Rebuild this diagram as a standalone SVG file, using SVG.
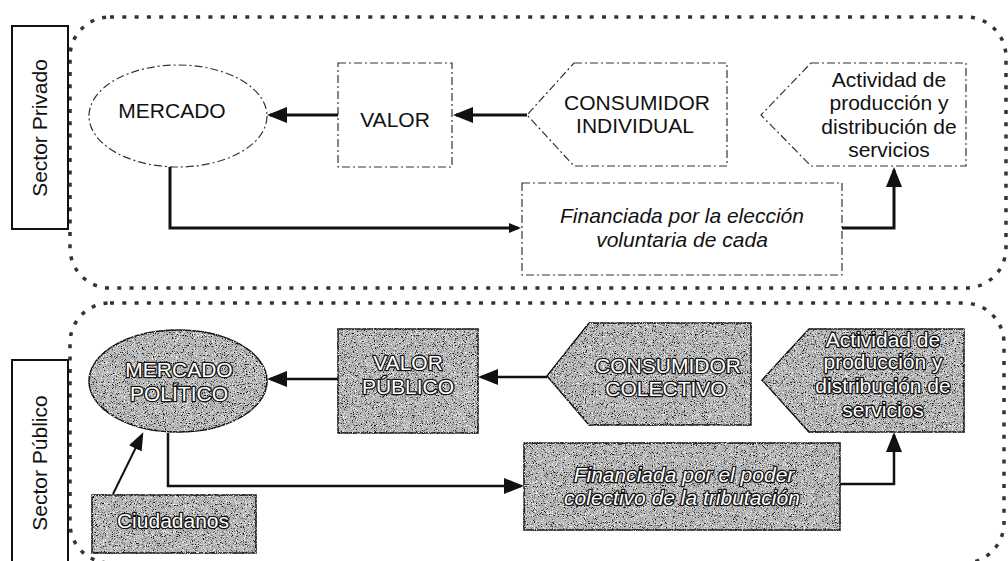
<svg xmlns="http://www.w3.org/2000/svg" width="1008" height="561" viewBox="0 0 1008 561">
<style>
  .lbl{font-family:"Liberation Sans",Arial,sans-serif;font-size:21px;fill:#111;text-anchor:middle}
  .it{font-style:italic}
  .wt{fill:#fff;stroke:#111;stroke-width:2.6;paint-order:stroke;stroke-linejoin:round}
  .dash{fill:#fff;stroke:#333;stroke-width:1.2;stroke-dasharray:8 3 2 3}
  .gray{fill:#b4b4b4;stroke:#111;stroke-width:1.5;filter:url(#grain)}
  .dots{fill:none;stroke:#333;stroke-width:3.5;stroke-dasharray:4 8.3}
  .side{fill:#fff;stroke:#111;stroke-width:2}
  .c{fill:none;stroke:#111;stroke-linejoin:miter}
  .c3{stroke-width:3}
  .c25{stroke-width:2.5}
</style>
<defs>
  <filter id="grain" x="-2%" y="-2%" width="104%" height="104%" color-interpolation-filters="sRGB">
    <feTurbulence type="fractalNoise" baseFrequency="1.1" numOctaves="2" seed="5" result="noise"/>
    <feColorMatrix in="noise" type="matrix" values="0 0 0 0 0  0 0 0 0 0  0 0 0 0 0  5 0 0 0 -2.9" result="blk"/>
    <feColorMatrix in="noise" type="matrix" values="0 0 0 0 1  0 0 0 0 1  0 0 0 0 1  0 5 0 0 -2.7" result="wht"/>
    <feComposite in="blk" in2="SourceGraphic" operator="in" result="clipB"/>
    <feComposite in="wht" in2="SourceGraphic" operator="in" result="clipW"/>
    <feMerge><feMergeNode in="SourceGraphic"/><feMergeNode in="clipW"/><feMergeNode in="clipB"/></feMerge>
  </filter>
  <marker id="arrL" viewBox="0 0 20 16" refX="17" refY="8" markerWidth="20" markerHeight="16" markerUnits="userSpaceOnUse" orient="auto">
    <path d="M0,0 L20,8 L0,16 z" fill="#111"/>
  </marker>
  <marker id="arrS" viewBox="0 0 12 10" refX="9" refY="5" markerWidth="12" markerHeight="10" markerUnits="userSpaceOnUse" orient="auto">
    <path d="M0,0 L12,5 L0,10 z" fill="#111"/>
  </marker>
  <marker id="arrM" viewBox="0 0 18 14" refX="15" refY="7" markerWidth="18" markerHeight="14" markerUnits="userSpaceOnUse" orient="auto">
    <path d="M0,0 L18,7 L0,14 z" fill="#111"/>
  </marker>
</defs>

<!-- sector frames -->
<rect class="dots" x="70" y="17" width="936" height="271" rx="40" ry="40"/>
<rect class="dots" x="70" y="303" width="934" height="260" rx="40" ry="40"/>

<g id="sector-privado">
  <rect class="side" x="12" y="26" width="56" height="203"/>
  <text class="lbl" transform="translate(47,128) rotate(-90)">Sector Privado</text>
</g>
<g id="sector-publico">
  <rect class="side" x="12" y="360" width="56" height="215"/>
  <text class="lbl" transform="translate(47,463) rotate(-90)">Sector Público</text>
</g>

<!-- Private sector nodes -->
<g id="mercado">
  <ellipse class="dash" cx="178" cy="116" rx="89" ry="51"/>
  <text class="lbl" x="172" y="118">MERCADO</text>
</g>
<g id="valor">
  <rect class="dash" x="338" y="63" width="114" height="104"/>
  <text class="lbl" x="395" y="127">VALOR</text>
</g>
<g id="consumidor-individual">
  <polygon class="dash" points="574,63 727,63 727,166 574,166 527,115"/>
  <text class="lbl" x="637" y="110">CONSUMIDOR</text>
  <text class="lbl" x="635" y="133">INDIVIDUAL</text>
</g>
<g id="actividad-privada">
  <polygon class="dash" points="811,63 966,63 966,166 811,166 761,115"/>
  <text class="lbl" x="889" y="87">Actividad de</text>
  <text class="lbl" x="889" y="110">producción y</text>
  <text class="lbl" x="889" y="134">distribución de</text>
  <text class="lbl" x="889" y="157">servicios</text>
</g>
<g id="financiada-privada">
  <rect class="dash" x="522" y="183" width="320" height="92"/>
  <text class="lbl it" x="682" y="223">Financiada por la elección</text>
  <text class="lbl it" x="682" y="247">voluntaria de cada</text>
</g>

<!-- Public sector nodes -->
<g id="mercado-politico">
  <ellipse class="gray" cx="178" cy="381" rx="89" ry="51"/>
  <text class="lbl wt" x="179" y="377">MERCADO</text>
  <text class="lbl wt" x="179" y="401">POLÍTICO</text>
</g>
<g id="valor-publico">
  <rect class="gray" x="338" y="329" width="140" height="104"/>
  <text class="lbl wt" x="408" y="370">VALOR</text>
  <text class="lbl wt" x="408" y="394">PÚBLICO</text>
</g>
<g id="consumidor-colectivo">
  <polygon class="gray" points="589,323 751,323 751,425 589,425 547,376"/>
  <text class="lbl wt" x="668" y="373">CONSUMIDOR</text>
  <text class="lbl wt" x="666" y="396">COLECTIVO</text>
</g>
<g id="actividad-publica">
  <polygon class="gray" points="809,329 964,329 964,432 809,432 762,380"/>
  <text class="lbl wt" x="883" y="347">Actividad de</text>
  <text class="lbl wt" x="883" y="369">producción y</text>
  <text class="lbl wt" x="883" y="393">distribución de</text>
  <text class="lbl wt" x="883" y="417">servicios</text>
</g>
<g id="financiada-publica">
  <rect class="gray" x="524" y="443" width="316" height="87"/>
  <text class="lbl it wt" x="684" y="482">Financiada por el poder</text>
  <text class="lbl it wt" x="682" y="505">colectivo de la tributación</text>
</g>
<g id="ciudadanos">
  <rect class="gray" x="92" y="495" width="164" height="58"/>
  <text class="lbl wt" x="173" y="528">Ciudadanos</text>
</g>

<!-- connectors -->
<g id="connectors">
  <path class="c c3" d="M338,115 H270" marker-end="url(#arrL)"/>
  <path class="c c3" d="M527,115 H456" marker-end="url(#arrL)"/>
  <path class="c c3" d="M170,167 V228 H518" marker-end="url(#arrS)"/>
  <path class="c c3" d="M842,228 H894 V170" marker-end="url(#arrL)"/>

  <path class="c c25" d="M338,379 H270" marker-end="url(#arrL)"/>
  <path class="c c25" d="M547,377 H481" marker-end="url(#arrL)"/>
  <path class="c c25" d="M168,433 V486 H521" marker-end="url(#arrL)"/>
  <path class="c c25" d="M840,484 H894 V435" marker-end="url(#arrL)"/>
  <path class="c" stroke-width="2" d="M113,494 L142,435" marker-end="url(#arrM)"/>
</g>
</svg>
